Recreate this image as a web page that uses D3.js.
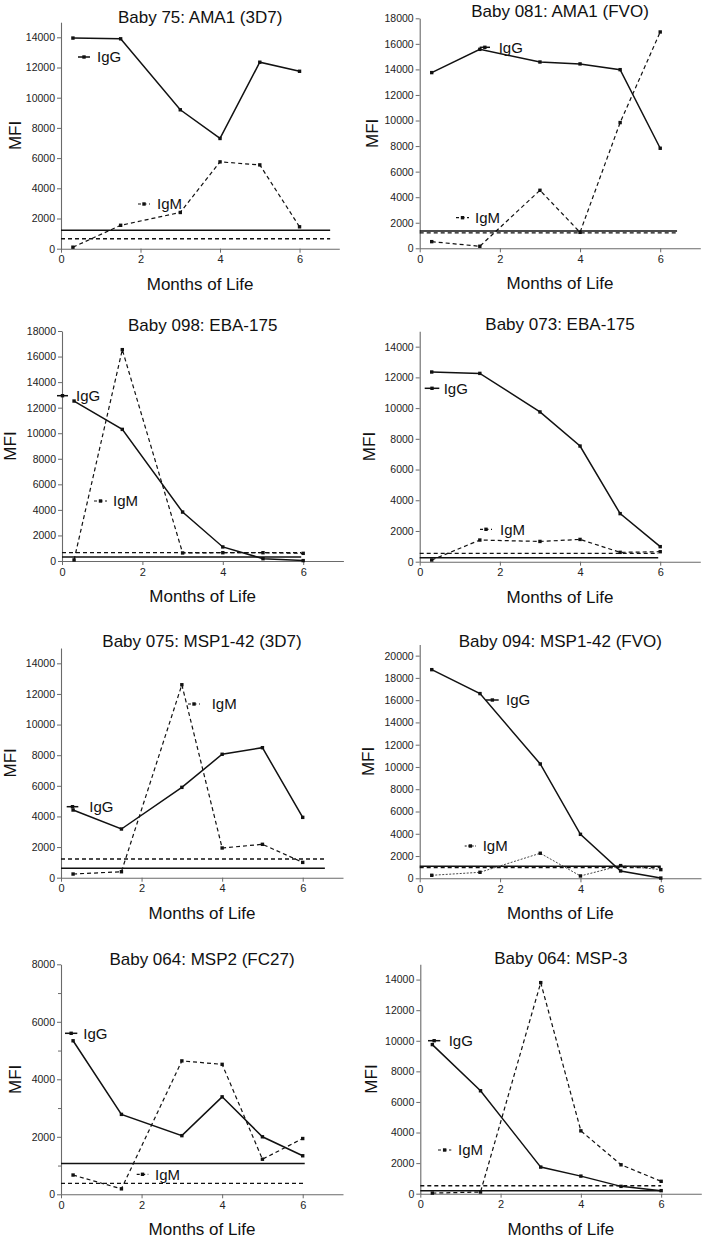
<!DOCTYPE html>
<html><head><meta charset="utf-8">
<script src="https://cdn.jsdelivr.net/npm/d3@7"></script>
<style>
html,body{margin:0;padding:0;background:#fff;}
svg{display:block;font-family:"Liberation Sans",Arial,sans-serif;}
</style></head>
<body>
<svg id="chart" width="703" height="1241"></svg>
<script>
// ---------- data ----------
const months = [0.3, 1.5, 3, 4, 5, 6];
const xTicks = [0, 2, 4, 6];
const titles = [
  "Baby 75: AMA1 (3D7)", "Baby 081: AMA1 (FVO)",
  "Baby 098: EBA-175", "Baby 073: EBA-175",
  "Baby 075: MSP1-42 (3D7)", "Baby 094: MSP1-42 (FVO)",
  "Baby 064: MSP2 (FC27)", "Baby 064: MSP-3"
];
const yMax = [15000, 18000, 18000, 15000, 15000, 21000, 8000, 15000];
const yTickMax = [14000, 18000, 18000, 14000, 14000, 20000, 8000, 14000];
const iggValues = [
  [13950, 13900, 9200, 7300, 12350, 11750],
  [13750, 15570, 14580, 14430, 13980, 7830],
  [12520, 10300, 3830, 1100, 180, 30],
  [12350, 12260, 9750, 7530, 3130, 980],
  [4420, 3180, 5900, 8060, 8490, 3940],
  [18740, 16590, 10270, 3950, 660, 20],
  [5340, 2780, 2040, 3390, 2000, 1340],
  [9750, 6730, 1740, 1150, 480, 200]
];
const igmValues = [
  [100, 1550, 2400, 5750, 5550, 1450],
  [520, 160, 4540, 1250, 9840, 16930],
  [80, 16540, 630, 650, 650, 600],
  [110, 1410, 1320, 1450, 610, 650],
  [240, 390, 12600, 1940, 2180, 1000],
  [270, 540, 2250, 210, 1140, 780],
  [670, 190, 4640, 4520, 1220, 1940],
  [40, 110, 13800, 4110, 1890, 810]
];
const cutoffIgG = [1230, 1360, 310, 260, 610, 1080, 1070, 200];
const cutoffIgM = [660, 1200, 650, 540, 1220, 960, 380, 520];
const cutoffEnd = [6.77, 6.42, 5.95, 5.95, 6.55, 6.0, 6.05, 6.0];
const seriesNames = ["IgG", "IgM"];

// ---------- layout ----------
const frames = [
  {xl: 61, xr: 339.3, yb: 248.7, yt: 22.2, titleY: 23, mfiX: 15},
  {xl: 419.7, xr: 700.3, yb: 248.3, yt: 18.3, titleY: 16.5, mfiX: 372},
  {xl: 62, xr: 343.4, yb: 561, yt: 331, titleY: 331, mfiX: 10},
  {xl: 419.7, xr: 700.3, yb: 561.7, yt: 331.3, titleY: 330, mfiX: 368.7},
  {xl: 61, xr: 343, yb: 877.7, yt: 648, titleY: 647, mfiX: 9.5},
  {xl: 419.7, xr: 701, yb: 878.3, yt: 644.5, titleY: 647, mfiX: 367.5},
  {xl: 61, xr: 343, yb: 1194.3, yt: 964.3, titleY: 965, mfiX: 14.5},
  {xl: 420.3, xr: 701.3, yb: 1193.7, yt: 964.3, titleY: 964, mfiX: 370.5}
];
const legends = [
  {g: [78, 90, 57, 97], m: [138, 150, 204, 157]},
  {g: [479.7, 490, 47.3, 498.7], m: [456, 469, 217.7, 475]},
  {g: [57, 68, 395.7, 76], m: [94, 107, 501, 113]},
  {g: [424.7, 439.3, 388.3, 443.7], m: [480, 492, 529.3, 500]},
  {g: [66.7, 78.3, 806.7, 89.3], m: [188, 200, 704, 211.7]},
  {g: [486, 498.7, 700, 506], m: [464.7, 476, 846, 482.7]},
  {g: [65, 77.3, 1033.3, 83.3], m: [136.7, 148.3, 1174.3, 155]},
  {g: [428, 440.3, 1040.7, 448.7], m: [438, 451.3, 1150, 458]}
];

const svg = d3.select("#chart");
const ink = "#111";
const axisCol = "#6a6a6a";

function marker(g, x, y) {
  g.append("rect").attr("x", x - 1.7).attr("y", y - 1.7)
    .attr("width", 3.4).attr("height", 3.4).attr("fill", ink);
}

titles.forEach((title, i) => {
  const f = frames[i];
  const x = d3.scaleLinear().domain([0, 7]).range([f.xl, f.xr]);
  const y = d3.scaleLinear().domain([0, yMax[i]]).range([f.yb, f.yt]);
  const g = svg.append("g");

  // y axis
  const yt = d3.range(0, yTickMax[i] + 1, 2000);
  const yAxis = g.append("g").attr("transform", `translate(${f.xl},0)`)
    .call(d3.axisLeft(y).tickValues(yt).tickFormat(d3.format("d"))
      .tickSize(4).tickSizeOuter(0).tickPadding(2));
  if (i === 6) {
    g.append("g").attr("transform", `translate(${f.xl},0)`)
      .call(d3.axisLeft(y).tickValues([1000, 3000, 5000, 7000]).tickFormat("")
        .tickSize(3).tickSizeOuter(0))
      .call(a => a.select(".domain").remove())
      .selectAll("line").attr("stroke", axisCol);
  }
  // x axis
  const xAxis = g.append("g").attr("transform", `translate(0,${f.yb})`)
    .call(d3.axisBottom(x).tickValues(xTicks).tickFormat(d3.format("d"))
      .tickSize(4).tickSizeOuter(0).tickPadding(3));
  [yAxis, xAxis].forEach(a => {
    a.select(".domain").attr("stroke", axisCol).attr("stroke-width", 1.1);
    a.selectAll(".tick line").attr("stroke", axisCol);
    a.selectAll(".tick text").attr("fill", "#222")
      .style("font-family", "'Liberation Sans', Arial, sans-serif");
  });
  yAxis.selectAll(".tick text").style("font-size", "10.5px");
  xAxis.selectAll(".tick text").style("font-size", "11px");

  // cutoff lines
  g.append("line").attr("x1", x(0)).attr("x2", x(cutoffEnd[i]))
    .attr("y1", y(cutoffIgG[i])).attr("y2", y(cutoffIgG[i]))
    .attr("stroke", ink).attr("stroke-width", 1.5);
  g.append("line").attr("x1", x(0)).attr("x2", x(cutoffEnd[i]))
    .attr("y1", y(cutoffIgM[i])).attr("y2", y(cutoffIgM[i]))
    .attr("stroke", ink).attr("stroke-width", 1.3).attr("stroke-dasharray", "4,3");

  const line = d3.line().x((d, k) => x(months[k])).y(d => y(d));
  const dotted = (i === 5);
  // IgM
  g.append("path").datum(igmValues[i]).attr("d", line).attr("fill", "none")
    .attr("stroke", dotted ? "#333" : ink)
    .attr("stroke-width", dotted ? 0.9 : 1.2)
    .attr("stroke-dasharray", dotted ? "2,1.5" : "4,3");
  igmValues[i].forEach((v, k) => marker(g, x(months[k]), y(v)));
  // IgG
  g.append("path").datum(iggValues[i]).attr("d", line).attr("fill", "none")
    .attr("stroke", ink).attr("stroke-width", 1.5);
  iggValues[i].forEach((v, k) => marker(g, x(months[k]), y(v)));

  // legends
  const L = legends[i];
  [L.g, L.m].forEach((p, s) => {
    g.append("line").attr("x1", p[0]).attr("x2", p[1]).attr("y1", p[2]).attr("y2", p[2])
      .attr("stroke", ink).attr("stroke-width", s === 0 ? 1.5 : 1.2)
      .attr("stroke-dasharray", s === 0 ? null : (dotted ? "2,1.5" : "3,2.5"));
    marker(g, (p[0] + p[1]) / 2, p[2]);
    g.append("text").attr("x", p[3]).attr("y", p[2]).attr("dy", "0.36em")
      .attr("font-size", 15).attr("fill", ink).text(seriesNames[s]);
  });

  // title
  g.append("text").attr("x", (f.xl + f.xr) / 2).attr("y", f.titleY)
    .attr("text-anchor", "middle").attr("font-size", 17).attr("fill", ink).text(title);
  // axis labels
  g.append("text").attr("x", (f.xl + f.xr) / 2).attr("y", f.yb + 41)
    .attr("text-anchor", "middle").attr("font-size", 17).attr("fill", ink).text("Months of Life");
  g.append("text").attr("transform", `translate(${f.mfiX},${(f.yb + f.yt) / 2}) rotate(-90)`)
    .attr("dy", "0.36em").attr("text-anchor", "middle").attr("font-size", 17)
    .attr("fill", ink).text("MFI");
});
</script>
</body></html>
